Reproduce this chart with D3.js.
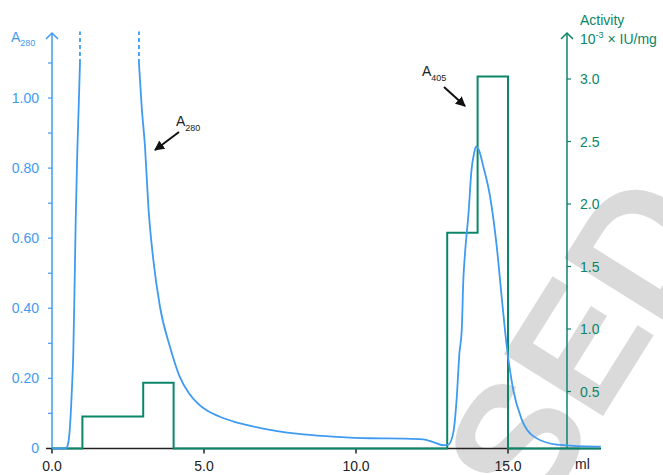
<!DOCTYPE html>
<html>
<head>
<meta charset="utf-8">
<script src="https://cdn.jsdelivr.net/npm/d3@7"></script>
<style>
  body { margin: 0; background: #fff; }
  svg text { font-family: "Liberation Sans", Arial, sans-serif; }
</style>
</head>
<body>
<svg id="chart" width="663" height="475"></svg>
<script>
  // A280 trace (ml, absorbance); null = off scale
  var a280Ml = [0.0, 0.3, 0.45, 0.52, 0.59, 0.65, 0.70, 0.74, 0.78, 0.83, 0.88, 0.92,
    1.5,
    2.86, 2.95, 3.06, 3.17, 3.33, 3.55, 3.88, 4.2, 4.5, 4.8, 5.1, 5.5, 6.0, 6.5, 7.17, 8.27,
    9.36, 10.46, 11.56, 12.21, 12.54, 12.87, 13.04, 13.2, 13.31, 13.4, 13.48, 13.53,
    13.58, 13.7, 13.8, 13.88, 13.95, 14.05, 14.19, 14.41, 14.63, 14.79, 14.96, 15.17,
    15.45, 15.83, 16.6, 17.9, 18.05];
  var a280Abs = [0, 0, 0, 0.01, 0.06, 0.16, 0.27, 0.45, 0.65, 0.84, 0.98, 1.10,
    null,
    1.10, 0.975, 0.86, 0.69, 0.54, 0.405, 0.29, 0.205, 0.158, 0.128, 0.108, 0.091, 0.076, 0.065, 0.053, 0.040,
    0.033, 0.029, 0.028, 0.026, 0.018, 0.009, 0.011, 0.045, 0.14, 0.27, 0.34, 0.48,
    0.55, 0.67, 0.795, 0.84, 0.862, 0.85, 0.804, 0.719, 0.576, 0.434, 0.291, 0.168,
    0.083, 0.035, 0.011, 0.005, 0.005];

  // off-scale continuation (dashed)
  var offScaleMl = [0.92, 2.86];
  var offScaleFrom = 1.10, offScaleTo = 1.19;

  // activity fractions (step edges in ml, value 10^-3 IU/mg)
  var actEdges = [0, 1, 3, 4, 13, 14, 15, 18.05];
  var actValues = [0, 0.30, 0.57, 0, 1.77, 3.02, 0, 0];

  var xTicks = [0, 5, 10, 15];
  var leftTicks = d3.range(0, 1.11, 0.1);
  var leftLabels = [0, 0.2, 0.4, 0.6, 0.8, 1.0];
  var rightTicks = [0.5, 1.0, 1.5, 2.0, 2.5, 3.0];

  var BLUE = '#3f9bf2';
  var GREEN = '#0b8668';

  var svg = d3.select('#chart');

  var x = d3.scaleLinear().domain([0, 15]).range([52, 508]);
  var y = d3.scaleLinear().domain([0, 1.1]).range([448.4, 63]);
  var yR = d3.scaleLinear().domain([0, 3]).range([454, 79]);
  var x0 = x(0), xEnd = 601, y0 = y(0);

  /* ---------- watermark ---------- */
  svg.append('text')
    .attr('transform', 'translate(537,522) rotate(-58)')
    .attr('font-size', 170)
    .attr('font-weight', 'bold')
    .attr('fill', '#dadada')
    .style('font-family', '"Liberation Sans", Arial, sans-serif')
    .text('SED');

  /* ---------- x axis ---------- */
  svg.append('line')
    .attr('x1', 46).attr('x2', xEnd).attr('y1', y0).attr('y2', y0)
    .attr('stroke', '#222').attr('stroke-width', 1.5);

  svg.selectAll('.xtick').data(xTicks).enter().append('line')
    .attr('x1', function (d) { return x(d); }).attr('x2', function (d) { return x(d); })
    .attr('y1', y0).attr('y2', y0 + 5)
    .attr('stroke', '#222').attr('stroke-width', 1.5);

  svg.selectAll('.xlab').data(xTicks).enter().append('text')
    .attr('x', function (d) { return x(d); }).attr('y', 471)
    .attr('text-anchor', 'middle').attr('font-size', 14).attr('fill', '#222')
    .text(function (d) { return d.toFixed(1); });

  svg.append('text').attr('x', 575).attr('y', 469)
    .attr('font-size', 14).attr('fill', '#222').text('ml');

  /* ---------- left axis ---------- */
  svg.append('line')
    .attr('x1', x0).attr('x2', x0).attr('y1', y0).attr('y2', 33)
    .attr('stroke', BLUE).attr('stroke-width', 1.5);
  svg.append('path')
    .attr('d', 'M' + (x0 - 6) + ',39 L' + x0 + ',33 L' + (x0 + 6) + ',39')
    .attr('fill', 'none').attr('stroke', BLUE).attr('stroke-width', 1.5);

  svg.selectAll('.ltick').data(leftTicks.slice(1)).enter().append('line')
    .attr('x1', x0 - 4).attr('x2', x0)
    .attr('y1', function (d) { return y(d); }).attr('y2', function (d) { return y(d); })
    .attr('stroke', BLUE).attr('stroke-width', 1.2);

  svg.selectAll('.llab').data(leftLabels).enter().append('text')
    .attr('x', 39).attr('y', function (d) { return y(d) + 5; })
    .attr('text-anchor', 'end').attr('font-size', 14).attr('fill', BLUE)
    .text(function (d) { return d === 0 ? '0' : d.toFixed(2); });

  var lt = svg.append('text').attr('x', 11).attr('y', 42).attr('fill', BLUE).attr('font-size', 14);
  lt.append('tspan').text('A');
  lt.append('tspan').attr('font-size', 9).attr('dy', 4).text('280');

  /* ---------- right axis ---------- */
  var xR = 567;
  svg.append('line')
    .attr('x1', xR).attr('x2', xR).attr('y1', y0).attr('y2', 33)
    .attr('stroke', GREEN).attr('stroke-width', 1.5);
  svg.append('path')
    .attr('d', 'M' + (xR - 6) + ',39 L' + xR + ',33 L' + (xR + 6) + ',39')
    .attr('fill', 'none').attr('stroke', GREEN).attr('stroke-width', 1.5);

  svg.selectAll('.rtick').data(rightTicks).enter().append('line')
    .attr('x1', xR).attr('x2', xR + 4)
    .attr('y1', function (d) { return yR(d); }).attr('y2', function (d) { return yR(d); })
    .attr('stroke', GREEN).attr('stroke-width', 1.2);

  svg.selectAll('.rlab').data(rightTicks).enter().append('text')
    .attr('x', 580).attr('y', function (d) { return yR(d) + 5; })
    .attr('font-size', 14).attr('fill', GREEN)
    .text(function (d) { return d.toFixed(1); });

  svg.append('text').attr('x', 580).attr('y', 25)
    .attr('font-size', 14).attr('fill', GREEN).text('Activity');
  var rt = svg.append('text').attr('x', 580).attr('y', 44).attr('font-size', 14).attr('fill', GREEN);
  rt.append('tspan').text('10');
  rt.append('tspan').attr('font-size', 9).attr('dy', -6).text('-3');
  rt.append('tspan').attr('dy', 6).text(' \u00d7 IU/mg');

  /* ---------- activity steps ---------- */
  var actPts = actEdges.map(function (e, i) { return [e, actValues[i]]; });
  var stepLine = d3.line()
    .x(function (d) { return x(d[0]); })
    .y(function (d) { return Math.min(yR(d[1]), y0); })
    .curve(d3.curveStepAfter);
  svg.append('path').datum(actPts)
    .attr('d', stepLine)
    .attr('fill', 'none').attr('stroke', GREEN).attr('stroke-width', 2);

  /* ---------- A280 trace ---------- */
  var a280Pts = a280Ml.map(function (m, i) { return [m, a280Abs[i]]; });
  var traceLine = d3.line()
    .defined(function (d) { return d[1] != null; })
    .x(function (d) { return x(d[0]); })
    .y(function (d) { return y(d[1]); })
    .curve(d3.curveMonotoneX);
  svg.append('path').datum(a280Pts)
    .attr('d', traceLine)
    .attr('fill', 'none').attr('stroke', BLUE).attr('stroke-width', 1.8);

  svg.selectAll('.offscale').data(offScaleMl).enter().append('line')
    .attr('x1', function (d) { return x(d); }).attr('x2', function (d) { return x(d); })
    .attr('y1', y(offScaleFrom)).attr('y2', y(offScaleTo))
    .attr('stroke', BLUE).attr('stroke-width', 1.8).attr('stroke-dasharray', '4,3');

  /* ---------- annotations ---------- */
  svg.append('defs').append('marker')
    .attr('id', 'ah').attr('viewBox', '0 0 10 10')
    .attr('refX', 9).attr('refY', 5)
    .attr('markerWidth', 5).attr('markerHeight', 5)
    .attr('orient', 'auto')
    .append('path').attr('d', 'M0,0 L10,5 L0,10 z').attr('fill', '#111');

  function note(tx, ty, sub, ax1, ay1, ax2, ay2) {
    var t = svg.append('text').attr('x', tx).attr('y', ty).attr('font-size', 14).attr('fill', '#222');
    t.append('tspan').text('A');
    t.append('tspan').attr('font-size', 9).attr('dy', 5).text(sub);
    svg.append('line')
      .attr('x1', ax1).attr('y1', ay1).attr('x2', ax2).attr('y2', ay2)
      .attr('stroke', '#111').attr('stroke-width', 2)
      .attr('marker-end', 'url(#ah)');
  }
  note(176, 126, '280', 179, 132, 155, 150);
  note(422, 76, '405', 444, 87, 465, 106);
</script>
</body>
</html>
